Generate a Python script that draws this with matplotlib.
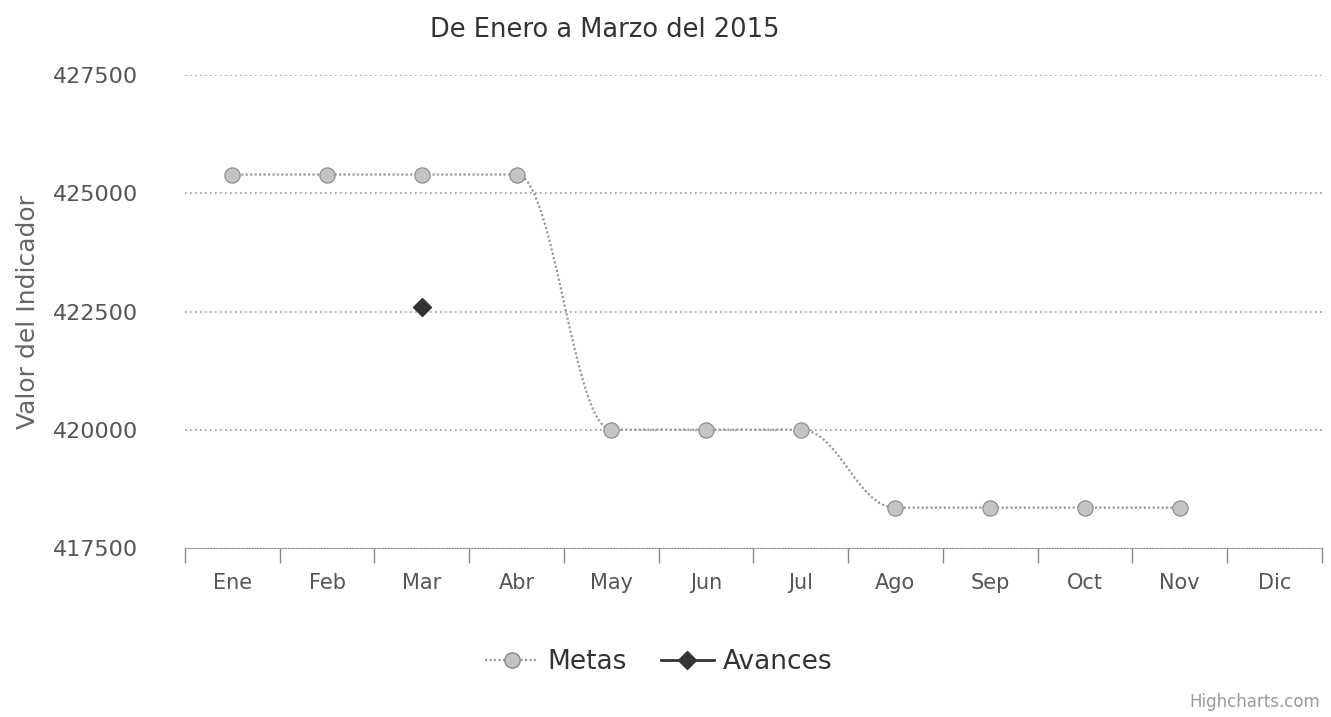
import matplotlib.pyplot as plt
from matplotlib.path import Path
from matplotlib.patches import PathPatch
import numpy as np

meses = ['Ene', 'Feb', 'Mar', 'Abr', 'May', 'Jun', 'Jul', 'Ago', 'Sep', 'Oct', 'Nov', 'Dic']
metas = [425400, 425400, 425400, 425400, 420000, 420000, 420000, 418350, 418350, 418350, 418350, None]
avances = [None, None, 422600, None, None, None, None, None, None, None, None, None]
y_ticks = [417500, 420000, 422500, 425000, 427500]


def spline_path(xs, ys, smoothing=1.5):
    # bezier control points like the highcharts spline series
    denom = smoothing + 1
    verts = [(xs[0], ys[0])]
    codes = [Path.MOVETO]
    ctrl = []
    for i in range(len(xs)):
        if i == 0 or i == len(xs) - 1:
            ctrl.append((xs[i], ys[i], xs[i], ys[i]))
            continue
        lx = (smoothing * xs[i] + xs[i - 1]) / denom
        ly = (smoothing * ys[i] + ys[i - 1]) / denom
        rx = (smoothing * xs[i] + xs[i + 1]) / denom
        ry = (smoothing * ys[i] + ys[i + 1]) / denom
        corr = ((ry - ly) * (rx - xs[i])) / (rx - lx) + ys[i] - ry
        ly += corr
        ry += corr
        if ly > ys[i - 1] and ly > ys[i]:
            ly = max(ys[i - 1], ys[i]); ry = 2 * ys[i] - ly
        elif ly < ys[i - 1] and ly < ys[i]:
            ly = min(ys[i - 1], ys[i]); ry = 2 * ys[i] - ly
        if ry > ys[i + 1] and ry > ys[i]:
            ry = max(ys[i + 1], ys[i]); ly = 2 * ys[i] - ry
        elif ry < ys[i + 1] and ry < ys[i]:
            ry = min(ys[i + 1], ys[i]); ly = 2 * ys[i] - ry
        ctrl.append((lx, ly, rx, ry))
    for i in range(1, len(xs)):
        verts += [(ctrl[i - 1][2], ctrl[i - 1][3]), (ctrl[i][0], ctrl[i][1]), (xs[i], ys[i])]
        codes += [Path.CURVE4] * 3
    return Path(verts, codes)


fig = plt.figure(figsize=(13.31, 7.17), dpi=100)
ax = fig.add_axes([0.139, 0.236, 0.854, 0.659])

x = np.arange(len(meses))
mx = [i for i, v in enumerate(metas) if v is not None]
my = [v for v in metas if v is not None]
ax.add_patch(PathPatch(spline_path(mx, my), facecolor='none', edgecolor='#999999',
                       lw=1.6, linestyle=(0, (1, 1)), zorder=3))
ax.plot(mx, my, linestyle='none', marker='o', markersize=11, color='#c4c4c4',
        markeredgecolor='#888888', markeredgewidth=0.8, zorder=4)

ax_x = [i for i, v in enumerate(avances) if v is not None]
ax_y = [v for v in avances if v is not None]
ax.plot(ax_x, ax_y, color='#333333', marker='D', markersize=9, linestyle='-', lw=2, zorder=5)

# legend proxies
ax.plot([], [], color='#999999', marker='o', markersize=11, markerfacecolor='#c4c4c4',
        markeredgecolor='#888888', lw=1.6, linestyle=(0, (1, 1)), label='Metas')
ax.plot([], [], color='#333333', marker='D', markersize=9, lw=2, label='Avances')

ax.set_xlim(-0.5, 11.5)
ax.set_ylim(417500, 427500)
ax.set_yticks(y_ticks)
ax.set_yticklabels([str(v) for v in y_ticks], fontsize=16, color='#555555')
ax.tick_params(axis='y', length=0, pad=34)
ax.set_xticks(x)
ax.set_xticklabels(meses, fontsize=15, color='#555555')
ax.set_xticks(np.arange(-0.5, 12, 1), minor=True)
ax.tick_params(axis='x', which='major', length=0, pad=18)
ax.tick_params(axis='x', which='minor', length=11, color='#888888', width=1)

for v in y_ticks[1:]:
    ax.axhline(v, color='#999999', lw=1.2, linestyle=(0, (1, 2)), zorder=1)

for side in ['top', 'right', 'left']:
    ax.spines[side].set_visible(False)
ax.spines['bottom'].set_color('#888888')
ax.spines['bottom'].set_linestyle((0, (1, 1.5)))

ax.set_ylabel('Valor del Indicador', fontsize=18, color='#666666')
ax.yaxis.set_label_coords(-0.128, 0.5)
fig.text(0.454, 0.958, 'De Enero a Marzo del 2015', ha='center', va='center',
         fontsize=18.5, color='#333333')

leg = fig.legend(loc='center', bbox_to_anchor=(0.495, 0.077), ncol=2, frameon=False,
                 fontsize=19, handlelength=2.0, columnspacing=1.3, handletextpad=0.35)
for t in leg.get_texts():
    t.set_color('#333333')

fig.text(0.992, 0.008, 'Highcharts.com', ha='right', va='bottom', fontsize=12, color='#999999')

fig.savefig('out.png', dpi=100)
